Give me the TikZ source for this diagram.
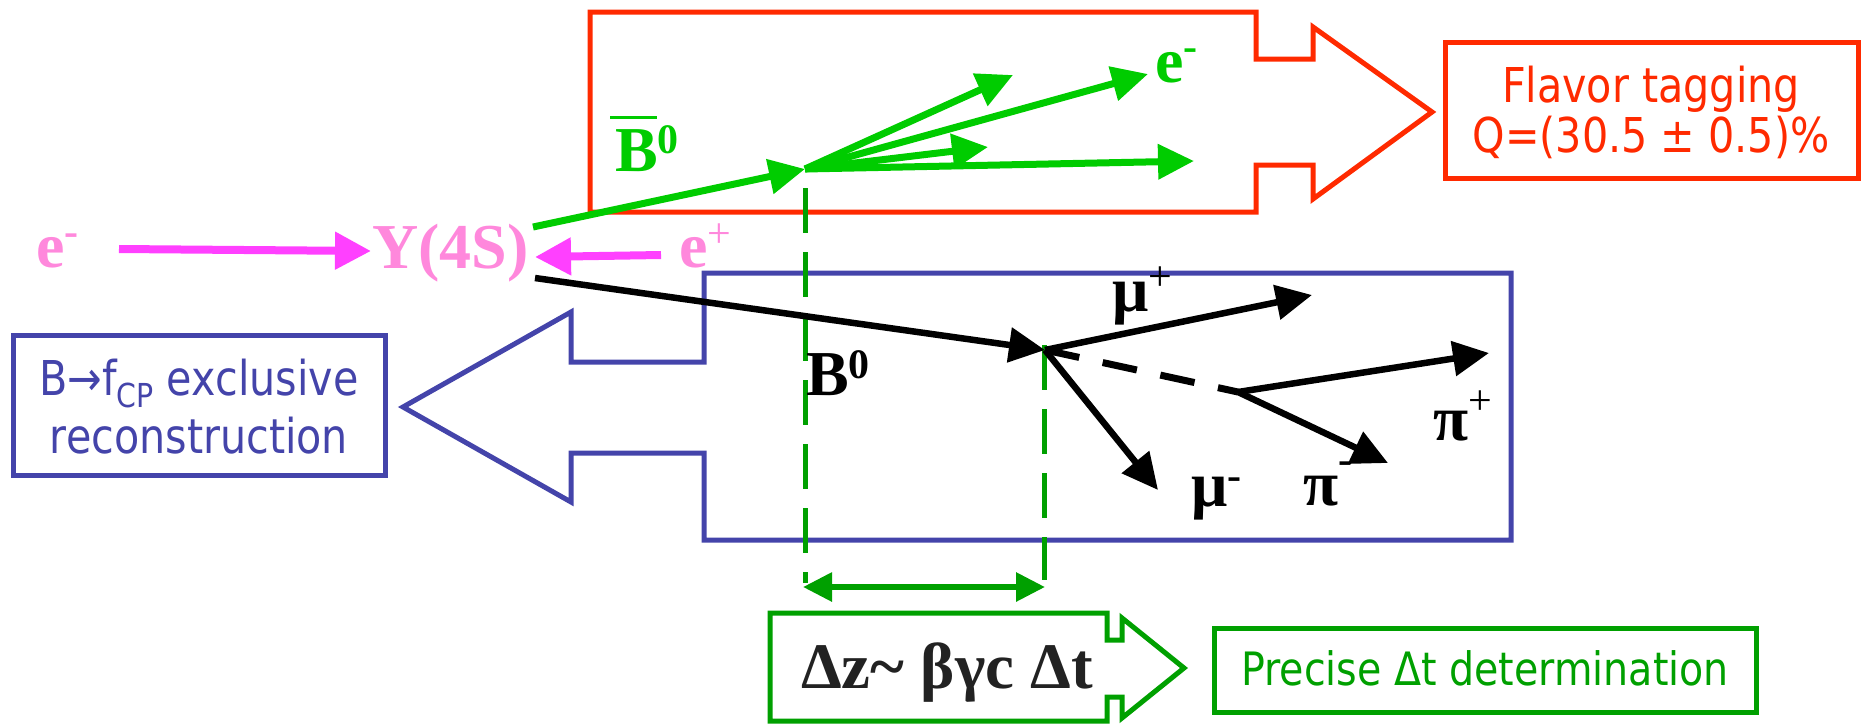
\documentclass[tikz,border=0pt]{standalone}
\usepackage{fontspec}
\setmainfont{Liberation Serif}
\newfontfamily\tahomalike[FakeStretch=0.86]{DejaVu Sans}
\usetikzlibrary{arrows.meta}
\definecolor{pinkarrow}{RGB}{255,64,255}
\definecolor{pinklabel}{RGB}{255,136,220}
\definecolor{fangreen}{RGB}{0,204,0}
\definecolor{dkgreen}{RGB}{0,160,0}
\definecolor{redline}{RGB}{255,42,0}
\definecolor{blueline}{RGB}{68,68,170}
\definecolor{darktext}{RGB}{34,34,34}
\newcommand\upsc[2]{\raisebox{#1pt}{\fontsize{42}{42}\selectfont #2}}
\begin{document}
\begin{tikzpicture}[x=1pt,y=-1pt,
  particle/.style={inner sep=0pt,anchor=base west,font=\fontsize{64}{70}\selectfont\bfseries},
  boxtext/.style={inner sep=0pt,anchor=base,font=\tahomalike\fontsize{48}{56}\selectfont},
  outline/.style={line width=5pt,line join=miter},
  parrow/.style={draw=pinkarrow,line width=8pt,-{Triangle[length=36pt,width=36pt]}},
  garrow/.style={draw=fangreen,line width=7pt,-{Triangle[length=36pt,width=34pt]}},
  barrow/.style={draw=black,line width=6.5pt,-{Triangle[length=36pt,width=34pt]}},
  gdash/.style={draw=dkgreen,line width=5pt,dash pattern=on 45pt off 19pt},
]
\useasboundingbox (0,0) rectangle (1867,724);

% red flavor-tagging arrow shape and box
\draw[outline,draw=redline] (590,12) -- (1256,12) -- (1256,59) -- (1313,59) -- (1313,27)
  -- (1432,112) -- (1313,199) -- (1313,165) -- (1256,165) -- (1256,212) -- (590,212) -- cycle;
\draw[outline,draw=redline] (1445,42) rectangle (1858,178);
\node[boxtext,text=redline] (flav1) at (1651,102) {Flavor tagging};
\node[boxtext,text=redline] (flav2) at (1651,152) {Q=(30.5 ± 0.5)\%};

% blue reconstruction arrow shape and box
\draw[outline,draw=blueline] (1511,273) -- (704,273) -- (704,362) -- (571,362) -- (571,312)
  -- (403,407) -- (571,502) -- (571,453) -- (704,453) -- (704,540) -- (1511,540) -- cycle;
\draw[outline,draw=blueline] (13,335) rectangle (385,475);
\node[boxtext,text=blueline] (rec1) at (199,395) {B→f\raisebox{-12pt}{\fontsize{33}{33}\selectfont CP} exclusive};
\node[boxtext,text=blueline] (rec2) at (199,453) {reconstruction};

% green delta-z arrow shape and box
\draw[outline,draw=dkgreen] (770,613) -- (1107,613) -- (1107,640) -- (1122,640) -- (1122,618)
  -- (1184,668) -- (1122,718) -- (1122,697) -- (1107,697) -- (1107,721) -- (770,721) -- cycle;
\node[inner sep=0pt,anchor=base west,text=darktext,font=\fontsize{65}{70}\selectfont\bfseries] (dz) at (801,688) {Δz\textasciitilde\ βγc Δt};
\draw[outline,draw=dkgreen] (1214,628) rectangle (1756,712);
\node[boxtext,text=dkgreen,font=\tahomalike\fontsize{46}{52}\selectfont] (prec) at (1485,685) {Precise Δt determination};

% coordinates
\coordinate (emtail) at (119,249);
\coordinate (upsin) at (371,251);
\coordinate (eptail) at (661,255);
\coordinate (upsright) at (535,257);
\coordinate (upstop) at (533,227);
\coordinate (bbarv) at (805,169);
\coordinate (g1) at (1013,75);
\coordinate (g2) at (1148,74);
\coordinate (g3) at (988,147);
\coordinate (g4) at (1194,161);
\coordinate (upsbot) at (535,278);
\coordinate (bv) at (1045,350);
\coordinate (mup) at (1312,295);
\coordinate (mum) at (1158,490);
\coordinate (pv) at (1238,392);
\coordinate (pip) at (1489,353);
\coordinate (pim) at (1388,463);
\coordinate (dl1) at (805,188);
\coordinate (dl2) at (805,583);
\coordinate (dr1) at (1044,345);
\coordinate (dr2) at (1044,580);
\coordinate (da1) at (803,587);
\coordinate (da2) at (1045,587);

% green dashed verticals and delta-z double arrow
\draw[gdash] (dl1) -- (dl2);
\draw[gdash] (dr1) -- (dr2);
\draw[draw=dkgreen,line width=6pt,{Triangle[length=29pt,width=28pt]}-{Triangle[length=29pt,width=28pt]}] (da1) -- (da2);

% pink beams
\draw[parrow] (emtail) -- (upsin);
\draw[parrow] (eptail) -- (upsright);

% green B-bar side
\draw[garrow] (upstop) -- (bbarv);
\draw[garrow] (bbarv) -- (g1);
\draw[garrow] (bbarv) -- (g2);
\draw[garrow] (bbarv) -- (g3);
\draw[garrow] (bbarv) -- (g4);

% black B side
\draw[barrow] (upsbot) -- (bv);
\draw[barrow] (bv) -- (mup);
\draw[barrow] (bv) -- (mum);
\draw[draw=black,line width=7pt,dash pattern=on 35pt off 24pt] (bv) -- (pv);
\draw[barrow] (pv) -- (pip);
\draw[barrow] (pv) -- (pim);

% particle labels
\node[particle,text=pinklabel] (em) at (36,267) {e\upsc{22}{-}};
\node[particle,text=pinklabel] (ups) at (372,268) {Y(4S)};
\node[particle,text=pinklabel] (ep) at (679,267) {e\upsc{20}{\mdseries +}};
\node[particle,text=fangreen] (eg) at (1155,82) {e\upsc{22}{-}};
\node[particle,text=fangreen] (bbar) at (615,171) {\rlap{\hspace*{-5pt}\raisebox{52pt}{\rule{47pt}{3.5pt}}}B\upsc{18}{0}};
\node[particle,text=black] (b0) at (806,395) {B\upsc{17}{0}};
\node[particle,text=black] (mupl) at (1112,311) {μ\upsc{21}{\mdseries +}};
\node[particle,text=black] (muml) at (1191,506) {μ\upsc{17}{-}};
\node[particle,text=black] (piml) at (1303,505) {π\upsc{32}{-}};
\node[particle,text=black] (pipl) at (1433,440) {π\upsc{26}{\mdseries +}};
\end{tikzpicture}
\end{document}
